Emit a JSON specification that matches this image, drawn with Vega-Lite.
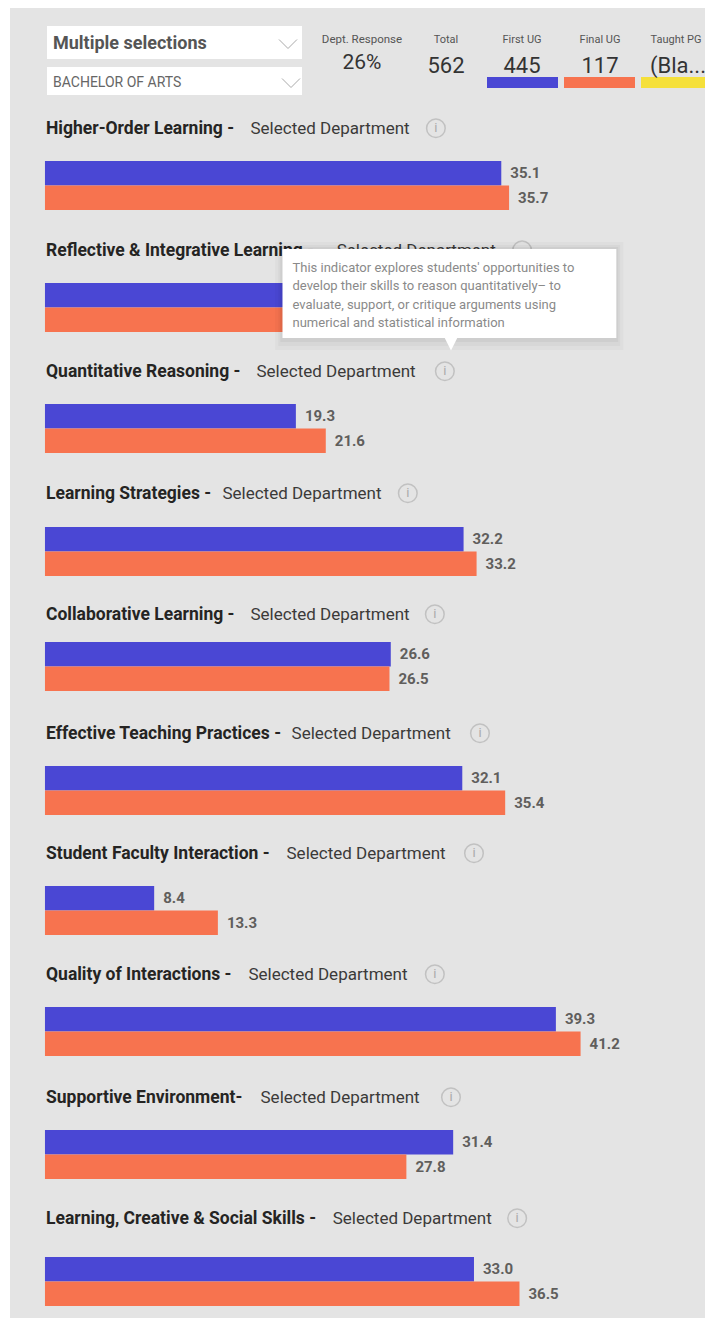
{"$schema":"https://vega.github.io/schema/vega-lite/v6.json","background":"white","padding":{"left":10,"top":8,"right":0,"bottom":0},"spacing":0,"config":{"view":{"fill":"#e4e4e4","stroke":null},"concat":{"spacing":0},"text":{"font":"Roboto"}},
"datasets":{
"slicers":[{"name":"Multiple selections"},{"name":"BACHELOR OF ARTS"}],
"kpis":[{"label":"Dept. Response","count":"26%"},{"label":"Total","count":"562"},{"label":"First UG","count":"445"},{"label":"Final UG","count":"117"},{"label":"Taught PG","count":"(Bla..."}],
"headings":[{"measure":"Higher-Order Learning","bold":"Higher-Order Learning -","sub":"Selected Department"},{"measure":"Reflective & Integrative Learning","bold":"Reflective & Integrative Learning -","sub":"Selected Department"},{"measure":"Quantitative Reasoning","bold":"Quantitative Reasoning -","sub":"Selected Department"},{"measure":"Learning Strategies","bold":"Learning Strategies -","sub":"Selected Department"},{"measure":"Collaborative Learning","bold":"Collaborative Learning -","sub":"Selected Department"},{"measure":"Effective Teaching Practices","bold":"Effective Teaching Practices -","sub":"Selected Department"},{"measure":"Student Faculty Interaction","bold":"Student Faculty Interaction -","sub":"Selected Department"},{"measure":"Quality of Interactions","bold":"Quality of Interactions -","sub":"Selected Department"},{"measure":"Supportive Environment","bold":"Supportive Environment-","sub":"Selected Department"},{"measure":"Learning, Creative & Social Skills","bold":"Learning, Creative & Social Skills -","sub":"Selected Department"}],
"scores":[{"measure":"Higher-Order Learning","group":"First UG","value":35.1},{"measure":"Higher-Order Learning","group":"Final UG","value":35.7},{"measure":"Reflective & Integrative Learning","group":"First UG","value":30.4},{"measure":"Reflective & Integrative Learning","group":"Final UG","value":31.6},{"measure":"Quantitative Reasoning","group":"First UG","value":19.3},{"measure":"Quantitative Reasoning","group":"Final UG","value":21.6},{"measure":"Learning Strategies","group":"First UG","value":32.2},{"measure":"Learning Strategies","group":"Final UG","value":33.2},{"measure":"Collaborative Learning","group":"First UG","value":26.6},{"measure":"Collaborative Learning","group":"Final UG","value":26.5},{"measure":"Effective Teaching Practices","group":"First UG","value":32.1},{"measure":"Effective Teaching Practices","group":"Final UG","value":35.4},{"measure":"Student Faculty Interaction","group":"First UG","value":8.4},{"measure":"Student Faculty Interaction","group":"Final UG","value":13.3},{"measure":"Quality of Interactions","group":"First UG","value":39.3},{"measure":"Quality of Interactions","group":"Final UG","value":41.2},{"measure":"Supportive Environment","group":"First UG","value":31.4},{"measure":"Supportive Environment","group":"Final UG","value":27.8},{"measure":"Learning, Creative & Social Skills","group":"First UG","value":33.0},{"measure":"Learning, Creative & Social Skills","group":"Final UG","value":36.5}],
"tipbox":[{"box":"tooltip"}],
"tip":[{"line":"This indicator explores students' opportunities to","row":"a"},{"line":"develop their skills to reason quantitatively– to","row":"b"},{"line":"evaluate, support, or critique arguments using","row":"c"},{"line":"numerical and statistical information","row":"d"}]
},
"vconcat":[
{"width":695,"height":104,"data":{"name":"kpis"},"layer":[
{"data":{"name":"slicers"},"transform":[{"filter":"datum.name==='Multiple selections'"}],"layer":[
{"mark":{"type":"rect","fill":"white"},"encoding":{"x":{"datum":37,"type":"quantitative","axis":null,"scale":{"domain":[0,695],"nice":false,"zero":false}},"x2":{"datum":292},"y":{"datum":18,"type":"quantitative","axis":null,"scale":{"domain":[104,0],"nice":false,"zero":false}},"y2":{"datum":51}}},
{"mark":{"type":"text","align":"left","fontSize":18,"fontWeight":"bold","color":"#555555"},"encoding":{"text":{"field":"name"},"x":{"datum":43,"type":"quantitative","axis":null},"y":{"datum":36,"type":"quantitative","axis":null}}},
{"mark":{"type":"point","shape":"M-1,-0.5L0,0.5L1,-0.5","filled":false,"stroke":"#888888","strokeWidth":1,"size":324},"encoding":{"x":{"datum":278,"type":"quantitative","axis":null},"y":{"datum":36,"type":"quantitative","axis":null}}}
]},
{"data":{"name":"slicers"},"transform":[{"filter":"datum.name==='BACHELOR OF ARTS'"}],"layer":[
{"mark":{"type":"rect","fill":"white"},"encoding":{"x":{"datum":37,"type":"quantitative","axis":null},"x2":{"datum":292},"y":{"datum":59,"type":"quantitative","axis":null},"y2":{"datum":87}}},
{"mark":{"type":"text","align":"left","fontSize":14,"color":"#666666"},"encoding":{"text":{"field":"name"},"x":{"datum":43,"type":"quantitative","axis":null},"y":{"datum":75,"type":"quantitative","axis":null}}},
{"mark":{"type":"point","shape":"M-1,-0.5L0,0.5L1,-0.5","filled":false,"stroke":"#888888","strokeWidth":1,"size":324},"encoding":{"x":{"datum":281,"type":"quantitative","axis":null},"y":{"datum":75,"type":"quantitative","axis":null}}}
]},
{"transform":[{"filter":"datum.label==='Dept. Response'"}],"encoding":{"x":{"datum":352,"type":"quantitative","axis":null}},"layer":[{"mark":{"type":"text","fontSize":11.5,"color":"#555555"},"encoding":{"text":{"field":"label"},"y":{"datum":32,"type":"quantitative","axis":null}}},{"mark":{"type":"text","fontSize":21,"color":"#333333"},"encoding":{"text":{"field":"count"},"y":{"datum":55,"type":"quantitative","axis":null}}}]},
{"transform":[{"filter":"datum.label==='Total'"}],"encoding":{"x":{"datum":436,"type":"quantitative","axis":null}},"layer":[{"mark":{"type":"text","fontSize":11,"color":"#555555"},"encoding":{"text":{"field":"label"},"y":{"datum":32,"type":"quantitative","axis":null}}},{"mark":{"type":"text","fontSize":22,"color":"#333333"},"encoding":{"text":{"field":"count"},"y":{"datum":58,"type":"quantitative","axis":null}}}]},
{"transform":[{"filter":"datum.label==='First UG'"}],"layer":[{"mark":{"type":"rect","fill":"#4a47d4"},"encoding":{"x":{"datum":477,"type":"quantitative","axis":null},"x2":{"datum":548},"y":{"datum":69,"type":"quantitative","axis":null},"y2":{"datum":80}}},{"mark":{"type":"text","fontSize":11,"color":"#555555"},"encoding":{"text":{"field":"label"},"x":{"datum":512,"type":"quantitative","axis":null},"y":{"datum":32,"type":"quantitative","axis":null}}},{"mark":{"type":"text","fontSize":22,"color":"#333333"},"encoding":{"text":{"field":"count"},"x":{"datum":512,"type":"quantitative","axis":null},"y":{"datum":58,"type":"quantitative","axis":null}}}]},
{"transform":[{"filter":"datum.label==='Final UG'"}],"layer":[{"mark":{"type":"rect","fill":"#f7734f"},"encoding":{"x":{"datum":554,"type":"quantitative","axis":null},"x2":{"datum":625},"y":{"datum":69,"type":"quantitative","axis":null},"y2":{"datum":80}}},{"mark":{"type":"text","fontSize":11,"color":"#555555"},"encoding":{"text":{"field":"label"},"x":{"datum":590,"type":"quantitative","axis":null},"y":{"datum":32,"type":"quantitative","axis":null}}},{"mark":{"type":"text","fontSize":22,"color":"#333333"},"encoding":{"text":{"field":"count"},"x":{"datum":590,"type":"quantitative","axis":null},"y":{"datum":58,"type":"quantitative","axis":null}}}]},
{"transform":[{"filter":"datum.label==='Taught PG'"}],"layer":[{"mark":{"type":"rect","fill":"#f5e03a"},"encoding":{"x":{"datum":631,"type":"quantitative","axis":null},"x2":{"datum":695},"y":{"datum":69,"type":"quantitative","axis":null},"y2":{"datum":80}}},{"mark":{"type":"text","fontSize":11,"color":"#555555","clip":true},"encoding":{"text":{"field":"label"},"x":{"datum":666,"type":"quantitative","axis":null},"y":{"datum":32,"type":"quantitative","axis":null}}},{"mark":{"type":"text","fontSize":22,"color":"#333333","align":"left","clip":true},"encoding":{"text":{"field":"count"},"x":{"datum":640,"type":"quantitative","axis":null},"y":{"datum":58,"type":"quantitative","axis":null}}}]}
]},
{"width":695,"height":122,"data":{"name":"scores"},"transform":[{"filter":"datum.measure==='Higher-Order Learning'"}],"layer":[
{"mark":{"type":"bar"},"encoding":{"x":{"field":"value","type":"quantitative","axis":null,"scale":{"domain":[-2.69,50.77],"nice":false,"zero":false}},"y":{"field":"group","type":"nominal","axis":null,"scale":{"type":"band","domain":["head","pad","First UG","Final UG"],"range":[0,98],"paddingInner":0,"paddingOuter":0}},"color":{"field":"group","type":"nominal","legend":null,"scale":{"domain":["First UG","Final UG"],"range":["#4a47d4","#f7734f"]}}}},
{"mark":{"type":"text","align":"left","dx":9,"fontSize":15,"fontWeight":"bold","color":"#605e5c"},"encoding":{"x":{"field":"value","type":"quantitative","axis":null},"y":{"field":"group","type":"nominal","axis":null},"text":{"field":"value","format":".1f"}}},
{"data":{"name":"headings"},"transform":[{"filter":"datum.measure==='Higher-Order Learning'"}],"encoding":{"y":{"datum":"head","type":"nominal","axis":null}},"layer":[
{"mark":{"type":"text","align":"left","dy":5,"fontSize":17.5,"fontWeight":"bold","color":"#252423"},"encoding":{"text":{"field":"bold"},"x":{"datum":0.08,"type":"quantitative","axis":null}}},
{"mark":{"type":"text","align":"left","dy":5,"fontSize":17,"color":"#3b3a39"},"encoding":{"text":{"field":"sub"},"x":{"datum":15.81,"type":"quantitative","axis":null}}},
{"mark":{"type":"point","filled":false,"stroke":"#b3b3b3","strokeWidth":1.5,"size":346,"yOffset":4},"encoding":{"x":{"datum":30.07,"type":"quantitative","axis":null}}},
{"mark":{"type":"text","dy":4,"fontSize":13,"color":"#aaaaaa"},"encoding":{"text":{"value":"i"},"x":{"datum":30.07,"type":"quantitative","axis":null}}}
]}]},
{"width":695,"height":121,"data":{"name":"scores"},"transform":[{"filter":"datum.measure==='Reflective & Integrative Learning'"}],"layer":[
{"mark":{"type":"bar"},"encoding":{"x":{"field":"value","type":"quantitative","axis":null,"scale":{"domain":[-2.69,50.77],"nice":false,"zero":false}},"y":{"field":"group","type":"nominal","axis":null,"scale":{"type":"band","domain":["head","pad","First UG","Final UG"],"range":[0,98],"paddingInner":0,"paddingOuter":0}},"color":{"field":"group","type":"nominal","legend":null,"scale":{"domain":["First UG","Final UG"],"range":["#4a47d4","#f7734f"]}}}},
{"data":{"name":"headings"},"transform":[{"filter":"datum.measure==='Reflective & Integrative Learning'"}],"encoding":{"y":{"datum":"head","type":"nominal","axis":null}},"layer":[
{"mark":{"type":"text","align":"left","dy":5,"fontSize":17.5,"fontWeight":"bold","color":"#252423"},"encoding":{"text":{"field":"bold"},"x":{"datum":0.08,"type":"quantitative","axis":null}}},
{"mark":{"type":"text","align":"left","dy":5,"fontSize":17,"color":"#3b3a39"},"encoding":{"text":{"field":"sub"},"x":{"datum":22.44,"type":"quantitative","axis":null}}},
{"mark":{"type":"point","filled":false,"stroke":"#b3b3b3","strokeWidth":1.5,"size":346,"yOffset":4},"encoding":{"x":{"datum":36.7,"type":"quantitative","axis":null}}}
]},
{"data":{"name":"tipbox"},"layer":[
{"mark":{"type":"rect","fill":"#000000","opacity":0.025},"encoding":{"x":{"datum":17.7,"type":"quantitative","axis":null},"x2":{"datum":44.5},"y":{"value":8},"y2":{"value":116}}},
{"mark":{"type":"rect","fill":"#000000","opacity":0.03},"encoding":{"x":{"datum":17.95,"type":"quantitative","axis":null},"x2":{"datum":44.25},"y":{"value":11},"y2":{"value":112}}},
{"mark":{"type":"rect","fill":"#000000","opacity":0.04},"encoding":{"x":{"datum":18.1,"type":"quantitative","axis":null},"x2":{"datum":44.1},"y":{"value":13},"y2":{"value":108}}},
{"mark":{"type":"rect","fill":"white"},"encoding":{"x":{"datum":18.27,"type":"quantitative","axis":null},"x2":{"datum":43.95},"y":{"value":15},"y2":{"value":104}}},
{"mark":{"type":"point","shape":"M-1,-1L1,-1L0,1Z","filled":true,"fill":"white","opacity":1,"size":225},"encoding":{"x":{"datum":31.23,"type":"quantitative","axis":null},"y":{"value":109}}}
]},
{"data":{"name":"tip"},"layer":[
{"transform":[{"filter":"datum.row==='a'"}],"mark":{"type":"text","align":"left","fontSize":13,"color":"#8a8a8a"},"encoding":{"text":{"field":"line"},"x":{"datum":19.04,"type":"quantitative","axis":null},"y":{"value":34}}},
{"transform":[{"filter":"datum.row==='b'"}],"mark":{"type":"text","align":"left","fontSize":13,"color":"#8a8a8a"},"encoding":{"text":{"field":"line"},"x":{"datum":19.04,"type":"quantitative","axis":null},"y":{"value":52}}},
{"transform":[{"filter":"datum.row==='c'"}],"mark":{"type":"text","align":"left","fontSize":13,"color":"#8a8a8a"},"encoding":{"text":{"field":"line"},"x":{"datum":19.04,"type":"quantitative","axis":null},"y":{"value":71}}},
{"transform":[{"filter":"datum.row==='d'"}],"mark":{"type":"text","align":"left","fontSize":13,"color":"#8a8a8a"},"encoding":{"text":{"field":"line"},"x":{"datum":19.04,"type":"quantitative","axis":null},"y":{"value":89}}}
]}
]},
{"width":695,"height":123,"data":{"name":"scores"},"transform":[{"filter":"datum.measure==='Quantitative Reasoning'"}],"layer":[
{"mark":{"type":"bar"},"encoding":{"x":{"field":"value","type":"quantitative","axis":null,"scale":{"domain":[-2.69,50.77],"nice":false,"zero":false}},"y":{"field":"group","type":"nominal","axis":null,"scale":{"type":"band","domain":["head","pad","First UG","Final UG"],"range":[0,98],"paddingInner":0,"paddingOuter":0}},"color":{"field":"group","type":"nominal","legend":null,"scale":{"domain":["First UG","Final UG"],"range":["#4a47d4","#f7734f"]}}}},
{"mark":{"type":"text","align":"left","dx":9,"fontSize":15,"fontWeight":"bold","color":"#605e5c"},"encoding":{"x":{"field":"value","type":"quantitative","axis":null},"y":{"field":"group","type":"nominal","axis":null},"text":{"field":"value","format":".1f"}}},
{"data":{"name":"headings"},"transform":[{"filter":"datum.measure==='Quantitative Reasoning'"}],"encoding":{"y":{"datum":"head","type":"nominal","axis":null}},"layer":[
{"mark":{"type":"text","align":"left","dy":5,"fontSize":17.5,"fontWeight":"bold","color":"#252423"},"encoding":{"text":{"field":"bold"},"x":{"datum":0.08,"type":"quantitative","axis":null}}},
{"mark":{"type":"text","align":"left","dy":5,"fontSize":17,"color":"#3b3a39"},"encoding":{"text":{"field":"sub"},"x":{"datum":16.27,"type":"quantitative","axis":null}}},
{"mark":{"type":"point","filled":false,"stroke":"#b3b3b3","strokeWidth":1.5,"size":346,"yOffset":4},"encoding":{"x":{"datum":30.76,"type":"quantitative","axis":null}}},
{"mark":{"type":"text","dy":4,"fontSize":13,"color":"#aaaaaa"},"encoding":{"text":{"value":"i"},"x":{"datum":30.76,"type":"quantitative","axis":null}}}
]}]},
{"width":695,"height":115,"data":{"name":"scores"},"transform":[{"filter":"datum.measure==='Learning Strategies'"}],"layer":[
{"mark":{"type":"bar"},"encoding":{"x":{"field":"value","type":"quantitative","axis":null,"scale":{"domain":[-2.69,50.77],"nice":false,"zero":false}},"y":{"field":"group","type":"nominal","axis":null,"scale":{"type":"band","domain":["head","pad","First UG","Final UG"],"range":[0,98],"paddingInner":0,"paddingOuter":0}},"color":{"field":"group","type":"nominal","legend":null,"scale":{"domain":["First UG","Final UG"],"range":["#4a47d4","#f7734f"]}}}},
{"mark":{"type":"text","align":"left","dx":9,"fontSize":15,"fontWeight":"bold","color":"#605e5c"},"encoding":{"x":{"field":"value","type":"quantitative","axis":null},"y":{"field":"group","type":"nominal","axis":null},"text":{"field":"value","format":".1f"}}},
{"data":{"name":"headings"},"transform":[{"filter":"datum.measure==='Learning Strategies'"}],"encoding":{"y":{"datum":"head","type":"nominal","axis":null}},"layer":[
{"mark":{"type":"text","align":"left","dy":4,"fontSize":17.5,"fontWeight":"bold","color":"#252423"},"encoding":{"text":{"field":"bold"},"x":{"datum":0.08,"type":"quantitative","axis":null}}},
{"mark":{"type":"text","align":"left","dy":4,"fontSize":17,"color":"#3b3a39"},"encoding":{"text":{"field":"sub"},"x":{"datum":13.65,"type":"quantitative","axis":null}}},
{"mark":{"type":"point","filled":false,"stroke":"#b3b3b3","strokeWidth":1.5,"size":346,"yOffset":3},"encoding":{"x":{"datum":27.91,"type":"quantitative","axis":null}}},
{"mark":{"type":"text","dy":3,"fontSize":13,"color":"#aaaaaa"},"encoding":{"text":{"value":"i"},"x":{"datum":27.91,"type":"quantitative","axis":null}}}
]}]},
{"width":695,"height":124,"data":{"name":"scores"},"transform":[{"filter":"datum.measure==='Collaborative Learning'"}],"layer":[
{"mark":{"type":"bar"},"encoding":{"x":{"field":"value","type":"quantitative","axis":null,"scale":{"domain":[-2.69,50.77],"nice":false,"zero":false}},"y":{"field":"group","type":"nominal","axis":null,"scale":{"type":"band","domain":["head","pad","First UG","Final UG"],"range":[0,98],"paddingInner":0,"paddingOuter":0}},"color":{"field":"group","type":"nominal","legend":null,"scale":{"domain":["First UG","Final UG"],"range":["#4a47d4","#f7734f"]}}}},
{"mark":{"type":"text","align":"left","dx":9,"fontSize":15,"fontWeight":"bold","color":"#605e5c"},"encoding":{"x":{"field":"value","type":"quantitative","axis":null},"y":{"field":"group","type":"nominal","axis":null},"text":{"field":"value","format":".1f"}}},
{"data":{"name":"headings"},"transform":[{"filter":"datum.measure==='Collaborative Learning'"}],"encoding":{"y":{"datum":"head","type":"nominal","axis":null}},"layer":[
{"mark":{"type":"text","align":"left","dy":10,"fontSize":17.5,"fontWeight":"bold","color":"#252423"},"encoding":{"text":{"field":"bold"},"x":{"datum":0.08,"type":"quantitative","axis":null}}},
{"mark":{"type":"text","align":"left","dy":10,"fontSize":17,"color":"#3b3a39"},"encoding":{"text":{"field":"sub"},"x":{"datum":15.81,"type":"quantitative","axis":null}}},
{"mark":{"type":"point","filled":false,"stroke":"#b3b3b3","strokeWidth":1.5,"size":346,"yOffset":9},"encoding":{"x":{"datum":29.99,"type":"quantitative","axis":null}}},
{"mark":{"type":"text","dy":9,"fontSize":13,"color":"#aaaaaa"},"encoding":{"text":{"value":"i"},"x":{"datum":29.99,"type":"quantitative","axis":null}}}
]}]},
{"width":695,"height":120,"data":{"name":"scores"},"transform":[{"filter":"datum.measure==='Effective Teaching Practices'"}],"layer":[
{"mark":{"type":"bar"},"encoding":{"x":{"field":"value","type":"quantitative","axis":null,"scale":{"domain":[-2.69,50.77],"nice":false,"zero":false}},"y":{"field":"group","type":"nominal","axis":null,"scale":{"type":"band","domain":["head","pad","First UG","Final UG"],"range":[0,98],"paddingInner":0,"paddingOuter":0}},"color":{"field":"group","type":"nominal","legend":null,"scale":{"domain":["First UG","Final UG"],"range":["#4a47d4","#f7734f"]}}}},
{"mark":{"type":"text","align":"left","dx":9,"fontSize":15,"fontWeight":"bold","color":"#605e5c"},"encoding":{"x":{"field":"value","type":"quantitative","axis":null},"y":{"field":"group","type":"nominal","axis":null},"text":{"field":"value","format":".1f"}}},
{"data":{"name":"headings"},"transform":[{"filter":"datum.measure==='Effective Teaching Practices'"}],"encoding":{"y":{"datum":"head","type":"nominal","axis":null}},"layer":[
{"mark":{"type":"text","align":"left","dy":5,"fontSize":17.5,"fontWeight":"bold","color":"#252423"},"encoding":{"text":{"field":"bold"},"x":{"datum":0.08,"type":"quantitative","axis":null}}},
{"mark":{"type":"text","align":"left","dy":5,"fontSize":17,"color":"#3b3a39"},"encoding":{"text":{"field":"sub"},"x":{"datum":18.97,"type":"quantitative","axis":null}}},
{"mark":{"type":"point","filled":false,"stroke":"#b3b3b3","strokeWidth":1.5,"size":346,"yOffset":4},"encoding":{"x":{"datum":33.46,"type":"quantitative","axis":null}}},
{"mark":{"type":"text","dy":4,"fontSize":13,"color":"#aaaaaa"},"encoding":{"text":{"value":"i"},"x":{"datum":33.46,"type":"quantitative","axis":null}}}
]}]},
{"width":695,"height":121,"data":{"name":"scores"},"transform":[{"filter":"datum.measure==='Student Faculty Interaction'"}],"layer":[
{"mark":{"type":"bar"},"encoding":{"x":{"field":"value","type":"quantitative","axis":null,"scale":{"domain":[-2.69,50.77],"nice":false,"zero":false}},"y":{"field":"group","type":"nominal","axis":null,"scale":{"type":"band","domain":["head","pad","First UG","Final UG"],"range":[0,98],"paddingInner":0,"paddingOuter":0}},"color":{"field":"group","type":"nominal","legend":null,"scale":{"domain":["First UG","Final UG"],"range":["#4a47d4","#f7734f"]}}}},
{"mark":{"type":"text","align":"left","dx":9,"fontSize":15,"fontWeight":"bold","color":"#605e5c"},"encoding":{"x":{"field":"value","type":"quantitative","axis":null},"y":{"field":"group","type":"nominal","axis":null},"text":{"field":"value","format":".1f"}}},
{"data":{"name":"headings"},"transform":[{"filter":"datum.measure==='Student Faculty Interaction'"}],"encoding":{"y":{"datum":"head","type":"nominal","axis":null}},"layer":[
{"mark":{"type":"text","align":"left","dy":5,"fontSize":17.5,"fontWeight":"bold","color":"#252423"},"encoding":{"text":{"field":"bold"},"x":{"datum":0.08,"type":"quantitative","axis":null}}},
{"mark":{"type":"text","align":"left","dy":5,"fontSize":17,"color":"#3b3a39"},"encoding":{"text":{"field":"sub"},"x":{"datum":18.58,"type":"quantitative","axis":null}}},
{"mark":{"type":"point","filled":false,"stroke":"#b3b3b3","strokeWidth":1.5,"size":346,"yOffset":4},"encoding":{"x":{"datum":33.0,"type":"quantitative","axis":null}}},
{"mark":{"type":"text","dy":4,"fontSize":13,"color":"#aaaaaa"},"encoding":{"text":{"value":"i"},"x":{"datum":33.0,"type":"quantitative","axis":null}}}
]}]},
{"width":695,"height":123,"data":{"name":"scores"},"transform":[{"filter":"datum.measure==='Quality of Interactions'"}],"layer":[
{"mark":{"type":"bar"},"encoding":{"x":{"field":"value","type":"quantitative","axis":null,"scale":{"domain":[-2.69,50.77],"nice":false,"zero":false}},"y":{"field":"group","type":"nominal","axis":null,"scale":{"type":"band","domain":["head","pad","First UG","Final UG"],"range":[0,98],"paddingInner":0,"paddingOuter":0}},"color":{"field":"group","type":"nominal","legend":null,"scale":{"domain":["First UG","Final UG"],"range":["#4a47d4","#f7734f"]}}}},
{"mark":{"type":"text","align":"left","dx":9,"fontSize":15,"fontWeight":"bold","color":"#605e5c"},"encoding":{"x":{"field":"value","type":"quantitative","axis":null},"y":{"field":"group","type":"nominal","axis":null},"text":{"field":"value","format":".1f"}}},
{"data":{"name":"headings"},"transform":[{"filter":"datum.measure==='Quality of Interactions'"}],"encoding":{"y":{"datum":"head","type":"nominal","axis":null}},"layer":[
{"mark":{"type":"text","align":"left","dy":5,"fontSize":17.5,"fontWeight":"bold","color":"#252423"},"encoding":{"text":{"field":"bold"},"x":{"datum":0.08,"type":"quantitative","axis":null}}},
{"mark":{"type":"text","align":"left","dy":5,"fontSize":17,"color":"#3b3a39"},"encoding":{"text":{"field":"sub"},"x":{"datum":15.65,"type":"quantitative","axis":null}}},
{"mark":{"type":"point","filled":false,"stroke":"#b3b3b3","strokeWidth":1.5,"size":346,"yOffset":4},"encoding":{"x":{"datum":29.99,"type":"quantitative","axis":null}}},
{"mark":{"type":"text","dy":4,"fontSize":13,"color":"#aaaaaa"},"encoding":{"text":{"value":"i"},"x":{"datum":29.99,"type":"quantitative","axis":null}}}
]}]},
{"width":695,"height":121,"data":{"name":"scores"},"transform":[{"filter":"datum.measure==='Supportive Environment'"}],"layer":[
{"mark":{"type":"bar"},"encoding":{"x":{"field":"value","type":"quantitative","axis":null,"scale":{"domain":[-2.69,50.77],"nice":false,"zero":false}},"y":{"field":"group","type":"nominal","axis":null,"scale":{"type":"band","domain":["head","pad","First UG","Final UG"],"range":[0,98],"paddingInner":0,"paddingOuter":0}},"color":{"field":"group","type":"nominal","legend":null,"scale":{"domain":["First UG","Final UG"],"range":["#4a47d4","#f7734f"]}}}},
{"mark":{"type":"text","align":"left","dx":9,"fontSize":15,"fontWeight":"bold","color":"#605e5c"},"encoding":{"x":{"field":"value","type":"quantitative","axis":null},"y":{"field":"group","type":"nominal","axis":null},"text":{"field":"value","format":".1f"}}},
{"data":{"name":"headings"},"transform":[{"filter":"datum.measure==='Supportive Environment'"}],"encoding":{"y":{"datum":"head","type":"nominal","axis":null}},"layer":[
{"mark":{"type":"text","align":"left","dy":5,"fontSize":17.5,"fontWeight":"bold","color":"#252423"},"encoding":{"text":{"field":"bold"},"x":{"datum":0.08,"type":"quantitative","axis":null}}},
{"mark":{"type":"text","align":"left","dy":5,"fontSize":17,"color":"#3b3a39"},"encoding":{"text":{"field":"sub"},"x":{"datum":16.58,"type":"quantitative","axis":null}}},
{"mark":{"type":"point","filled":false,"stroke":"#b3b3b3","strokeWidth":1.5,"size":346,"yOffset":4},"encoding":{"x":{"datum":31.23,"type":"quantitative","axis":null}}},
{"mark":{"type":"text","dy":4,"fontSize":13,"color":"#aaaaaa"},"encoding":{"text":{"value":"i"},"x":{"datum":31.23,"type":"quantitative","axis":null}}}
]}]},
{"width":695,"height":116,"data":{"name":"scores"},"transform":[{"filter":"datum.measure==='Learning, Creative & Social Skills'"}],"layer":[
{"mark":{"type":"bar"},"encoding":{"x":{"field":"value","type":"quantitative","axis":null,"scale":{"domain":[-2.69,50.77],"nice":false,"zero":false}},"y":{"field":"group","type":"nominal","axis":null,"scale":{"type":"band","domain":["head","pad","First UG","Final UG"],"range":[6,104],"paddingInner":0,"paddingOuter":0}},"color":{"field":"group","type":"nominal","legend":null,"scale":{"domain":["First UG","Final UG"],"range":["#4a47d4","#f7734f"]}}}},
{"mark":{"type":"text","align":"left","dx":9,"fontSize":15,"fontWeight":"bold","color":"#605e5c"},"encoding":{"x":{"field":"value","type":"quantitative","axis":null},"y":{"field":"group","type":"nominal","axis":null},"text":{"field":"value","format":".1f"}}},
{"data":{"name":"headings"},"transform":[{"filter":"datum.measure==='Learning, Creative & Social Skills'"}],"encoding":{"y":{"datum":"head","type":"nominal","axis":null}},"layer":[
{"mark":{"type":"text","align":"left","dy":-1,"fontSize":17.5,"fontWeight":"bold","color":"#252423"},"encoding":{"text":{"field":"bold"},"x":{"datum":0.08,"type":"quantitative","axis":null}}},
{"mark":{"type":"text","align":"left","dy":-1,"fontSize":17,"color":"#3b3a39"},"encoding":{"text":{"field":"sub"},"x":{"datum":22.13,"type":"quantitative","axis":null}}},
{"mark":{"type":"point","filled":false,"stroke":"#b3b3b3","strokeWidth":1.5,"size":346,"yOffset":-2},"encoding":{"x":{"datum":36.32,"type":"quantitative","axis":null}}},
{"mark":{"type":"text","dy":-2,"fontSize":13,"color":"#aaaaaa"},"encoding":{"text":{"value":"i"},"x":{"datum":36.32,"type":"quantitative","axis":null}}}
]}]}
]}
